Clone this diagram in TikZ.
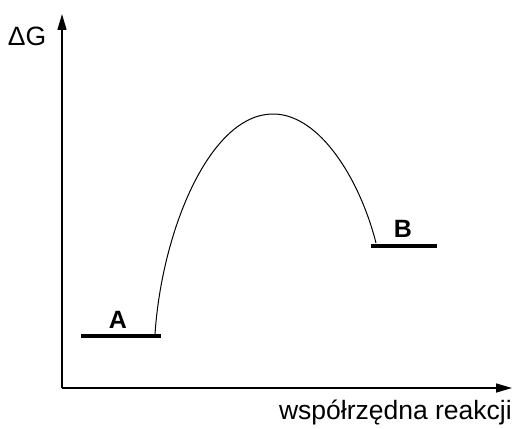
\documentclass[tikz,border=0pt]{standalone}
\usepackage{fontspec}
\setmainfont{Liberation Sans}
\usetikzlibrary{arrows.meta}
\begin{document}
\begin{tikzpicture}[x=1pt,y=-1pt,
  axis/.style={line width=1.5pt,-{Triangle[length=16pt,width=9pt]}},
  level/.style={line width=4pt},
  lbl/.style={font=\fontsize{26.5}{30}\selectfont,inner sep=0pt},
  state/.style={font=\fontsize{25}{30}\selectfont\bfseries,inner sep=0pt}]
\useasboundingbox (0,0) rectangle (516,428);
\coordinate (O) at (62,388);
\coordinate (Y) at (62,14);
\coordinate (X) at (512,388);
\draw[axis] (O) -- (Y);
\draw[axis] (O) -- (X);
\node[lbl] (dG) at (27,36) {ΔG};
\node[lbl,anchor=east] (xl) at (512,412) {współrzędna reakcji};
\coordinate (A1) at (81,336);
\coordinate (A2) at (161,336);
\coordinate (B1) at (371,246);
\coordinate (B2) at (437,246);
\draw[level] (A1) -- (A2);
\draw[level] (B1) -- (B2);
\node[state] (A) at (118,320) {A};
\node[state] (B) at (403,229) {B};
\coordinate (cs) at (155,334);
\coordinate (peak) at (273,114);
\coordinate (ce) at (376,243);
\draw[line width=1pt] (cs) .. controls (162,230) and (210,114) .. (peak)
  .. controls (320,114) and (360,180) .. (ce);
\end{tikzpicture}
\end{document}
